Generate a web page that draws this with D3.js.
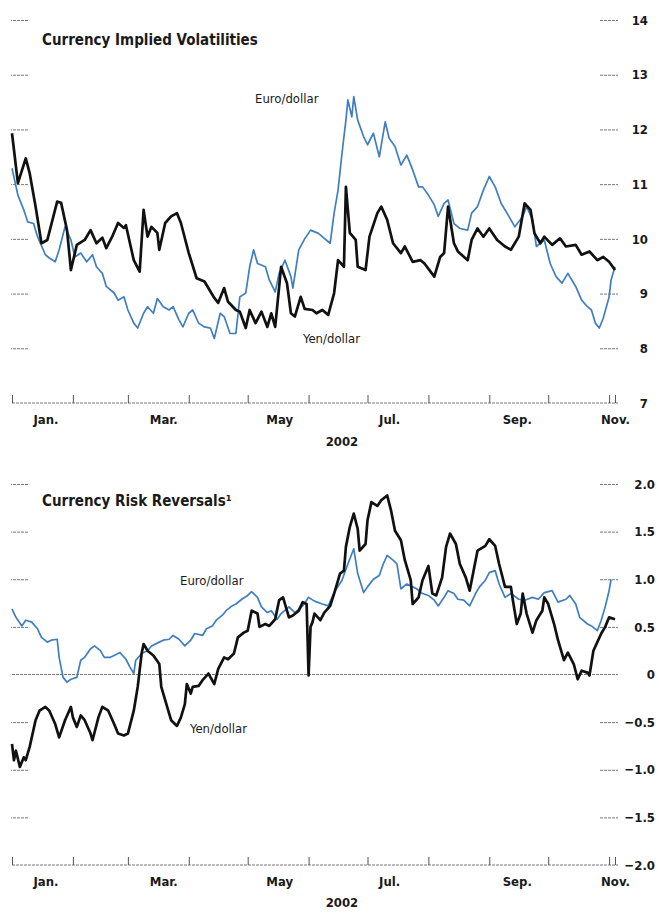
<!DOCTYPE html>
<html>
<head>
<meta charset="utf-8">
<script src="https://cdn.jsdelivr.net/npm/d3@7"></script>
<style>
  body { margin: 0; background: #fff; }
  svg { display: block; }
  text { font-family: "Liberation Sans Narrow", "DejaVu Sans Condensed", "Roboto Condensed", Arial, sans-serif; fill: #1a1a1a; }
</style>
</head>
<body>
<svg width="659" height="915"></svg>
<script>
// values: [day of 2002 (Jan 1 = 0), value]
const yenVol = [[0,11.93],[3,11.02],[7,11.47],[9,11.2],[12,10.59],[15,9.92],[18,9.98],[23,10.68],[25,10.66],[28,10.16],[30,9.43],[33,9.89],[37,9.98],[40,10.16],[43,9.92],[46,10.02],[48,9.83],[51,10.04],[54,10.29],[57,10.2],[58,10.25],[62,9.61],[65,9.4],[67,10.53],[69,10.04],[71,10.22],[74,10.11],[75,9.8],[78,10.29],[81,10.41],[84,10.47],[86,10.29],[90,9.74],[94,9.28],[98,9.22],[103,8.92],[105,8.83],[108,9.1],[110,8.85],[114,8.7],[116,8.67],[119,8.37],[121,8.7],[124,8.46],[127,8.67],[130,8.39],[132,8.64],[134,8.39],[137,9.49],[140,9.19],[142,8.64],[144,8.58],[147,8.94],[149,8.72],[153,8.7],[155,8.64],[158,8.7],[161,8.61],[164,9.01],[166,9.61],[169,9.49],[170,10.95],[172,10.11],[175,9.98],[176,9.49],[180,9.43],[182,10.04],[186,10.47],[188,10.59],[191,10.35],[194,9.92],[198,9.74],[200,9.86],[204,9.58],[208,9.61],[210,9.55],[215,9.31],[218,9.67],[220,9.74],[222,10.59],[225,9.92],[227,9.77],[232,9.61],[234,9.98],[237,10.19],[240,10.04],[243,10.19],[247,9.98],[251,9.86],[254,9.8],[258,10.04],[261,10.65],[264,10.53],[266,10.1],[269,9.92],[271,10.04],[275,9.89],[279,10.01],[282,9.86],[287,9.89],[290,9.71],[294,9.77],[298,9.61],[301,9.67],[304,9.58],[307,9.43]];

const euroVol = [[0,11.29],[3,10.8],[6,10.53],[8,10.31],[11,10.28],[13,10.04],[17,9.71],[19,9.65],[22,9.58],[24,9.8],[27,10.22],[30,9.98],[32,9.67],[35,9.74],[38,9.58],[41,9.71],[43,9.49],[46,9.37],[48,9.13],[52,9.01],[54,8.88],[57,8.94],[59,8.7],[62,8.46],[64,8.37],[67,8.64],[69,8.76],[72,8.64],[74,8.91],[77,8.76],[80,8.7],[82,8.76],[85,8.52],[87,8.39],[90,8.64],[92,8.7],[95,8.46],[98,8.39],[101,8.37],[103,8.18],[106,8.64],[108,8.58],[111,8.27],[114,8.27],[116,8.94],[119,9.01],[121,9.49],[123,9.8],[125,9.55],[129,9.49],[131,9.25],[134,9.03],[136,9.37],[139,9.61],[142,9.31],[143,9.1],[146,9.8],[149,10.0],[152,10.16],[156,10.1],[159,10.01],[162,9.92],[164,10.47],[166,10.89],[168,11.56],[170,12.17],[171,12.54],[173,12.23],[174,12.6],[176,12.17],[179,11.87],[181,11.72],[184,11.93],[187,11.5],[190,12.14],[192,11.84],[195,11.69],[198,11.35],[201,11.53],[204,11.26],[207,10.95],[209,10.95],[212,10.8],[215,10.62],[217,10.41],[220,10.65],[222,10.71],[225,10.28],[228,10.19],[232,10.16],[234,10.47],[237,10.59],[240,10.89],[243,11.14],[246,10.95],[249,10.65],[253,10.41],[256,10.22],[260,10.41],[262,10.59],[265,10.35],[267,9.86],[271,9.98],[274,9.55],[277,9.31],[280,9.19],[283,9.37],[287,9.13],[290,8.88],[293,8.76],[295,8.7],[297,8.46],[299,8.37],[301,8.55],[304,8.94],[305,9.25],[307,9.49]];

const yenRR = [[0,-0.73],[1,-0.9],[2,-0.8],[4,-0.97],[6,-0.87],[7,-0.9],[9,-0.76],[12,-0.48],[14,-0.38],[17,-0.34],[19,-0.38],[22,-0.52],[24,-0.66],[27,-0.48],[30,-0.34],[31,-0.45],[33,-0.55],[35,-0.43],[37,-0.48],[40,-0.62],[41,-0.69],[44,-0.45],[46,-0.34],[49,-0.38],[52,-0.52],[54,-0.62],[57,-0.64],[59,-0.62],[62,-0.38],[64,-0.13],[66,0.22],[67,0.32],[69,0.25],[72,0.2],[75,0.11],[76,-0.13],[79,-0.34],[81,-0.48],[84,-0.54],[86,-0.45],[88,-0.31],[89,-0.1],[91,-0.2],[92,-0.13],[95,-0.12],[97,-0.06],[100,0.01],[103,-0.1],[105,0.06],[108,0.18],[110,0.16],[113,0.22],[115,0.39],[118,0.44],[120,0.46],[122,0.67],[125,0.64],[126,0.5],[129,0.53],[131,0.51],[134,0.58],[136,0.78],[138,0.81],[141,0.6],[143,0.62],[146,0.67],[148,0.76],[150,0.74],[151,-0.01],[152,0.5],[153,0.55],[154,0.64],[157,0.57],[159,0.65],[162,0.72],[164,0.85],[167,1.06],[169,1.09],[170,1.34],[172,1.55],[174,1.69],[176,1.53],[177,1.3],[180,1.37],[181,1.62],[183,1.81],[186,1.77],[188,1.83],[191,1.88],[193,1.72],[195,1.51],[198,1.41],[200,1.2],[203,0.99],[204,0.74],[207,0.81],[209,0.99],[212,1.14],[214,0.85],[216,0.83],[219,1.02],[221,1.34],[223,1.48],[226,1.37],[228,1.16],[231,1.02],[233,0.88],[235,1.09],[237,1.3],[241,1.35],[243,1.42],[246,1.35],[248,1.16],[251,0.92],[254,0.92],[255,0.78],[257,0.53],[259,0.64],[260,0.85],[262,0.64],[265,0.44],[267,0.57],[270,0.67],[271,0.81],[273,0.74],[276,0.53],[278,0.36],[281,0.15],[283,0.23],[286,0.11],[288,-0.05],[290,0.04],[293,0.02],[294,-0.01],[296,0.25],[298,0.34],[300,0.43],[302,0.5],[304,0.6],[307,0.58]];

const euroRR = [[0,0.69],[2,0.6],[5,0.51],[7,0.57],[10,0.55],[13,0.48],[15,0.39],[18,0.34],[20,0.36],[23,0.37],[24,0.18],[26,-0.03],[28,-0.08],[30,-0.05],[33,-0.03],[35,0.15],[37,0.18],[40,0.27],[42,0.3],[45,0.25],[47,0.18],[50,0.18],[52,0.2],[55,0.23],[58,0.16],[60,0.08],[62,0.01],[63,0.15],[66,0.22],[69,0.25],[71,0.3],[75,0.34],[77,0.36],[80,0.37],[82,0.41],[85,0.37],[88,0.3],[91,0.36],[93,0.43],[97,0.41],[99,0.48],[102,0.51],[104,0.57],[107,0.62],[109,0.67],[112,0.72],[114,0.74],[117,0.79],[120,0.83],[122,0.87],[125,0.81],[127,0.71],[130,0.65],[132,0.67],[135,0.58],[137,0.64],[141,0.71],[144,0.65],[148,0.72],[151,0.81],[154,0.77],[158,0.74],[161,0.72],[164,0.86],[168,0.99],[171,1.16],[174,1.32],[176,1.06],[179,0.86],[181,0.92],[184,1.0],[187,1.04],[189,1.16],[191,1.25],[194,1.2],[196,1.16],[198,0.9],[201,0.95],[204,0.92],[206,0.9],[209,0.85],[212,0.83],[215,0.78],[217,0.72],[220,0.81],[222,0.88],[225,0.85],[227,0.79],[230,0.78],[233,0.72],[236,0.85],[238,0.92],[241,0.99],[243,1.07],[246,1.09],[248,0.95],[251,0.81],[254,0.85],[258,0.79],[261,0.78],[265,0.81],[268,0.79],[271,0.86],[275,0.88],[278,0.76],[282,0.79],[284,0.83],[287,0.74],[289,0.6],[293,0.53],[295,0.51],[298,0.46],[300,0.57],[302,0.71],[304,0.88],[305,1.0]];

const volTicks = [7, 8, 9, 10, 11, 12, 13, 14];
const rrTicks = [-2, -1.5, -1, -0.5, 0, 0.5, 1, 1.5, 2];
const monthLabels = ["Jan.", "Mar.", "May", "Jul.", "Sep.", "Nov."];
const labelDays = [17, 77, 136, 192, 257, 307];
const yearLabel = "2002";

const start = new Date(2002, 0, 1);
const end = new Date(2002, 10, 4);
const toDate = d => d3.timeDay.offset(start, d);

let svg = d3.select("svg");
const blue = "#3f7fbf";

const x = d3.scaleTime().domain([start, end]).range([12, 615]);

function panel(opts) {
  const y = d3.scaleLinear().domain(opts.domain).range(opts.range);
  const g = svg.append("g");
  const base = opts.range[0];

  // title
  g.append("text")
    .attr("x", 42).attr("y", opts.titleY)
    .style("font-size", "15px").style("font-weight", "bold")
    .text(opts.title);

  // zero line (risk reversals only)
  if (opts.zero) {
    g.append("line")
      .attr("x1", 12).attr("x2", 618)
      .attr("y1", y(0)).attr("y2", y(0))
      .attr("stroke", "#777").attr("stroke-dasharray", "3,1");
  }

  // left ticks
  const inner = opts.ticks.filter(t => t !== opts.domain[0] && t !== 0);
  g.append("g")
    .attr("transform", "translate(28,0)")
    .call(d3.axisLeft(y).tickValues(inner).tickSize(17).tickFormat(""))
    .call(a => a.select(".domain").remove())
    .call(a => a.selectAll("line").attr("stroke", "#777").attr("stroke-dasharray", "3,1"));

  // right ticks + labels
  const right = g.append("g")
    .attr("transform", "translate(600,0)")
    .call(d3.axisRight(y).tickValues(opts.ticks).tickSize(18).tickFormat(opts.fmt))
    .call(a => a.select(".domain").remove());
  right.selectAll("line").attr("stroke", "#777").attr("stroke-dasharray", "3,1")
    .filter(d => d === opts.domain[0] || (opts.zero && d === 0)).remove();
  right.selectAll("text")
    .attr("text-anchor", "end").attr("x", opts.labelRight)
    .style("font-size", "13px").style("font-weight", "bold")
    .attr("fill", "#1a1a1a");

  // x axis baseline with month ticks
  const monthStarts = d3.timeMonth.range(start, new Date(2002, 10, 2));
  g.append("g")
    .attr("transform", `translate(0,${base})`)
    .call(d3.axisTop(x).tickValues(monthStarts.concat([end])).tickSize(8).tickSizeOuter(0).tickFormat(""))
    .call(a => a.select(".domain").attr("stroke", "#777").attr("stroke-dasharray", "3,1")
      .attr("d", "M12,0H618"))
    .call(a => a.selectAll("line").attr("stroke", "#555"));

  // month labels
  g.append("g")
    .attr("transform", `translate(0,${base})`)
    .call(d3.axisBottom(x).tickValues(labelDays.map(toDate)).tickSize(0).tickPadding(12)
      .tickFormat((d, i) => monthLabels[i]))
    .call(a => a.select(".domain").remove())
    .call(a => a.selectAll("text").style("font-size", "13px").style("font-weight", "bold")
      .attr("fill", "#1a1a1a"));

  g.append("text")
    .attr("x", x(new Date(2002, 5, 18))).attr("y", base + opts.yearDy)
    .attr("text-anchor", "middle")
    .style("font-size", "13px").style("font-weight", "bold")
    .text(yearLabel);

  const line = d3.line().x(d => x(toDate(d[0]))).y(d => y(d[1]));

  g.append("path").datum(opts.euro)
    .attr("fill", "none").attr("stroke", blue).attr("stroke-width", 1.7)
    .attr("stroke-linejoin", "round").attr("d", line);
  g.append("path").datum(opts.yen)
    .attr("fill", "none").attr("stroke", "#111").attr("stroke-width", 2.7)
    .attr("stroke-linejoin", "round").attr("d", line);

  // series labels
  g.append("text").attr("x", opts.euroLabel[0]).attr("y", opts.euroLabel[1])
    .style("font-size", "13px").text("Euro/dollar");
  g.append("text").attr("x", opts.yenLabel[0]).attr("y", opts.yenLabel[1])
    .style("font-size", "13px").text("Yen/dollar");
}

panel({
  title: "Currency Implied Volatilities", titleY: 45,
  domain: [7, 14], range: [403, 20], ticks: volTicks,
  fmt: d3.format("d"), labelRight: 48, yearDy: 43,
  euro: euroVol, yen: yenVol,
  euroLabel: [255, 103], yenLabel: [303, 343]
});

panel({
  title: "Currency Risk Reversals\u00b9", titleY: 506, zero: true,
  domain: [-2, 2], range: [865, 484], ticks: rrTicks,
  fmt: d => d === 0 ? "0" : d3.format(".1f")(d).replace("-", "\u2212"),
  labelRight: 55, yearDy: 42,
  euro: euroRR, yen: yenRR,
  euroLabel: [180, 585], yenLabel: [190, 733]
});
</script>
</body>
</html>
